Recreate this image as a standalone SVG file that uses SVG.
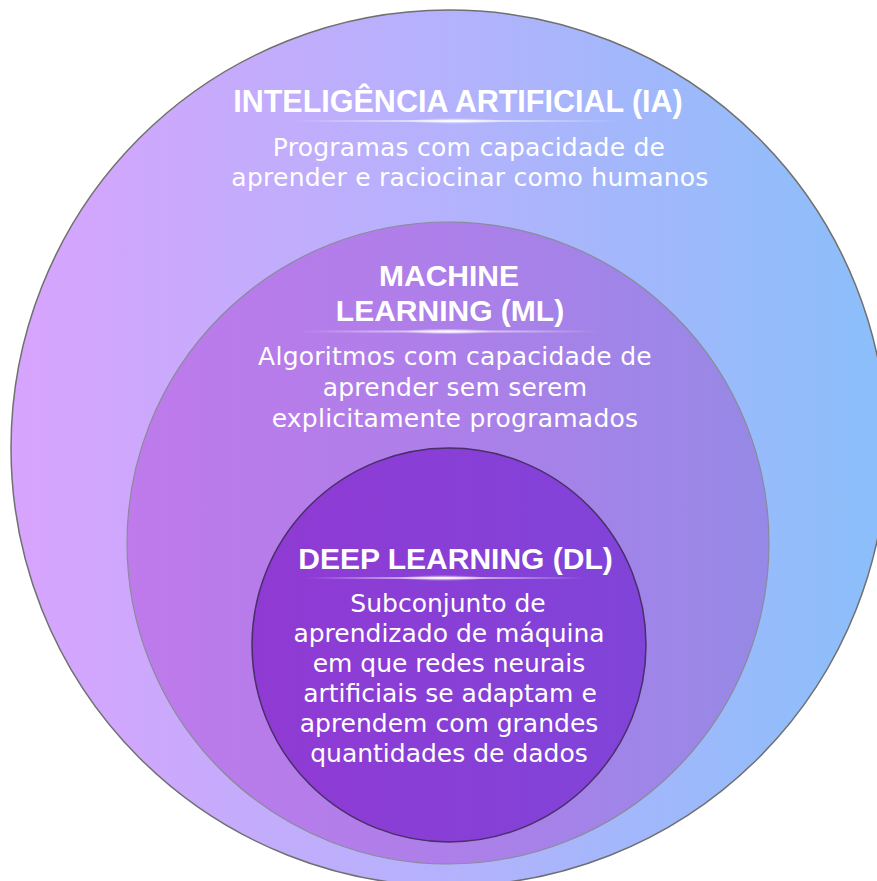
<svg xmlns="http://www.w3.org/2000/svg" width="877" height="881" viewBox="0 0 877 881">
  <defs>
    <linearGradient id="gOuter" x1="0" y1="0" x2="1" y2="0">
      <stop offset="0" stop-color="#d8a4fd"/>
      <stop offset="0.5" stop-color="#b4b2fc"/>
      <stop offset="1" stop-color="#8abffa"/>
    </linearGradient>
    <linearGradient id="gMid" x1="0" y1="0" x2="1" y2="0">
      <stop offset="0" stop-color="#bf7aeb"/>
      <stop offset="0.5" stop-color="#ad7fe9"/>
      <stop offset="1" stop-color="#9689e6"/>
    </linearGradient>
    <linearGradient id="gInner" x1="0" y1="0" x2="1" y2="0">
      <stop offset="0" stop-color="#903ad3"/>
      <stop offset="1" stop-color="#8044d9"/>
    </linearGradient>
    <linearGradient id="gLine" x1="0" y1="0" x2="1" y2="0">
      <stop offset="0" stop-color="#ffffff" stop-opacity="0"/>
      <stop offset="0.5" stop-color="#ffffff" stop-opacity="0.75"/>
      <stop offset="1" stop-color="#ffffff" stop-opacity="0"/>
    </linearGradient>
    <radialGradient id="gSpot">
      <stop offset="0" stop-color="#ffffff" stop-opacity="0.95"/>
      <stop offset="1" stop-color="#ffffff" stop-opacity="0"/>
    </radialGradient>
  </defs>
  <style>
    .title { font-family: "Liberation Sans", Arial, sans-serif; font-weight: bold; font-size: 30px; fill: #ffffff; text-anchor: middle; }
    .body { font-family: "DejaVu Sans", "Liberation Sans", sans-serif; font-size: 25px; fill: #ffffff; text-anchor: middle; }
    .wide { letter-spacing: 0.25px; }
  </style>
  <rect width="877" height="881" fill="#ffffff"/>

  <g id="node-ia">
    <circle cx="449" cy="448" r="438" fill="url(#gOuter)" stroke="#707070" stroke-width="1.5"/>
    <text class="title" x="458" y="112" style="font-size:30.5px">INTELIGÊNCIA ARTIFICIAL (IA)</text>
    <rect x="290" y="120" width="330" height="2" fill="url(#gLine)"/>
    <ellipse cx="455" cy="121" rx="50" ry="3" fill="url(#gSpot)"/>
    <text class="body wide" x="469" y="156">Programas com capacidade de</text>
    <text class="body wide" x="470" y="186">aprender e raciocinar como humanos</text>
  </g>

  <g id="node-ml">
    <circle cx="448" cy="543" r="321" fill="url(#gMid)" stroke="#8a8a9c" stroke-width="1.2"/>
    <text class="title" x="449" y="286">MACHINE</text>
    <text class="title" x="450" y="321">LEARNING (ML)</text>
    <rect x="300" y="330.5" width="300" height="2" fill="url(#gLine)"/>
    <ellipse cx="448" cy="331.5" rx="45" ry="3" fill="url(#gSpot)"/>
    <text class="body wide" x="455" y="365">Algoritmos com capacidade de</text>
    <text class="body wide" x="455" y="396">aprender sem serem</text>
    <text class="body wide" x="455" y="427">explicitamente programados</text>
  </g>

  <g id="node-dl">
    <circle cx="449" cy="645" r="197" fill="url(#gInner)" stroke="#4a2f68" stroke-width="1.5"/>
    <text class="title" x="455.5" y="569">DEEP LEARNING (DL)</text>
    <rect x="305" y="577" width="280" height="2" fill="url(#gLine)"/>
    <ellipse cx="443" cy="578" rx="45" ry="3" fill="url(#gSpot)"/>
    <text class="body" x="448" y="612">Subconjunto de</text>
    <text class="body" x="449" y="642">aprendizado de máquina</text>
    <text class="body" x="449" y="672">em que redes neurais</text>
    <text class="body" x="450" y="702">artificiais se adaptam e</text>
    <text class="body" x="449" y="732">aprendem com grandes</text>
    <text class="body" x="449" y="762">quantidades de dados</text>
  </g>

  <g id="connectors"/>
</svg>
